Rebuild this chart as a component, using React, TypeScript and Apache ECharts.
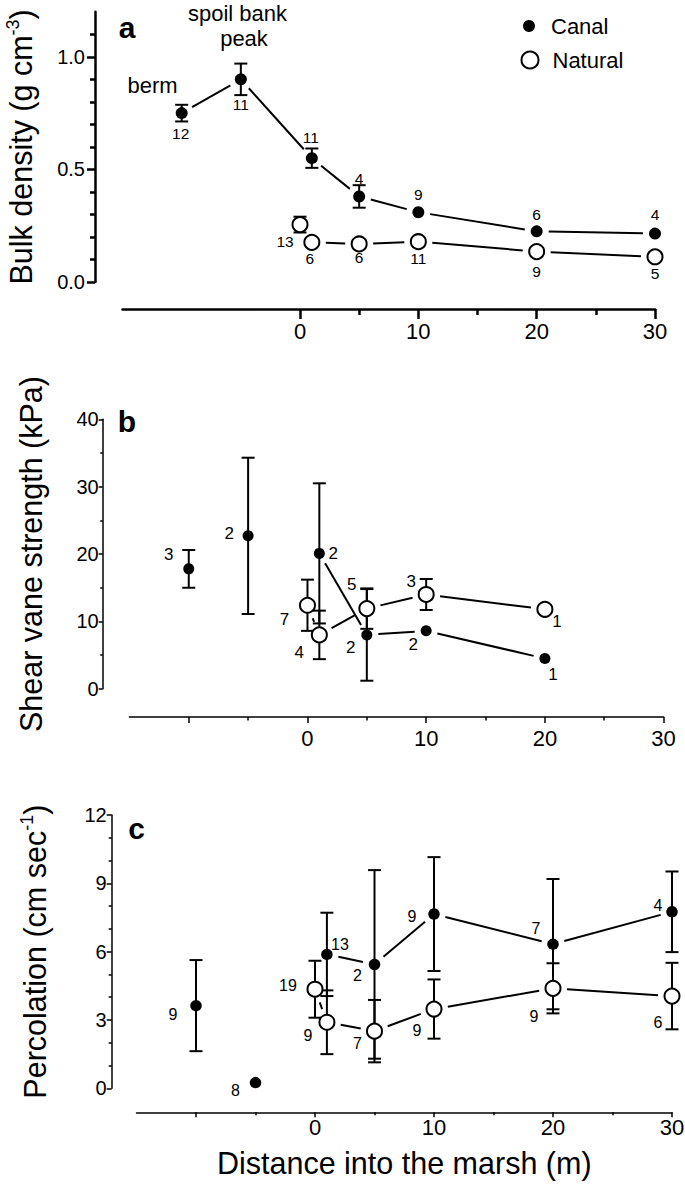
import React, { useEffect, useRef } from "react";
import * as echarts from "echarts";

const FONT = "'Liberation Sans', Arial, Helvetica, sans-serif";

// ---------- Panel a: bulk density (g cm-3) ----------
const canalX_A = [-10, -5, 1, 5, 10, 20, 30];
const canalY_A = [0.75, 0.9, 0.55, 0.38, 0.31, 0.225, 0.215];
const canalSD_A = [0.037, 0.07, 0.043, 0.05, 0, 0, 0];
const canalN_A = [12, 11, 11, 4, 9, 6, 4];
const naturalX_A = [0, 1, 5, 10, 20, 30];
const naturalY_A = [0.255, 0.176, 0.169, 0.179, 0.135, 0.112];
const naturalSD_A = [0.035, 0, 0, 0, 0, 0];
const naturalN_A = [13, 6, 6, 11, 9, 5];

// ---------- Panel b: shear vane strength (kPa) ----------
const canalX_B = [-10, -5, 1, 5, 10, 20];
const canalY_B = [17.8, 22.7, 20.1, 8.0, 8.6, 4.5];
const canalSD_B = [2.8, 11.6, 10.4, 6.8, 0, 0];
const canalN_B = [3, 2, 2, 2, 2, 1];
const naturalX_B = [0, 1, 5, 10, 20];
const naturalY_B = [12.4, 8.0, 11.9, 14.0, 11.8];
const naturalSD_B = [3.8, 3.6, 3.0, 2.3, 0];
const naturalN_B = [7, 4, 5, 3, 1];

// ---------- Panel c: percolation (cm sec-1) ----------
const canalX_C = [-10, -5, 1, 5, 10, 20, 30];
const canalY_C = [3.63, 0.25, 5.88, 5.44, 7.65, 6.33, 7.75];
const canalSD_C = [2.0, 0, 1.83, 4.14, 2.5, 2.86, 1.77];
const canalN_C = [9, 8, 13, 2, 9, 7, 4];
const naturalX_C = [0, 1, 5, 10, 20, 30];
const naturalY_C = [4.35, 2.9, 2.51, 3.48, 4.39, 4.05];
const naturalSD_C = [1.25, 1.4, 1.37, 1.3, 1.1, 1.46];
const naturalN_C = [19, 9, 7, 9, 9, 6];

// ---------- ticks ----------
const xLabelValues = [0, 10, 20, 30];
const xMajorA = [0, 10, 20, 30];
const xMinorA = [5, 15, 25];
const xMajorBC = [-10, 0, 10, 20, 30];
const xMinorBC = [-5, 5, 15, 25];
const yMajorA = [0, 0.5, 1.0];
const yMinorA = [0.1, 0.2, 0.3, 0.4, 0.6, 0.7, 0.8, 0.9, 1.1];
const yMajorB = [0, 10, 20, 30, 40];
const yMinorB = [5, 15, 25, 35];
const yMajorC = [0, 3, 6, 9, 12];
const yMinorC = [1, 2, 4, 5, 7, 8, 10, 11];

// whether berm / spoil-bank-peak points are joined to the marsh line
const spoilLinked = [true, false, false];

// ---------- label placement (px offsets from marker centre) ----------
const offCanalA = [[-1, 20], [0, 25], [-1, -21], [0, -18], [0, -18], [0, -17], [0, -19]];
const offNaturalA = [[-15, 17], [-2, 16], [0, 14], [0, 17], [0, 20], [0, 17]];
const offCanalB = [[-20, -14], [-19, -2], [14, 0], [-16, 13], [-13, 14], [8, 16]];
const offNaturalB = [[-23, 14], [-20, 18], [-15, -24], [-15, -13], [12, 12]];
const offCanalC = [[-23, 9], [-20, 8], [13, -10], [-17, 11], [-22, 2], [-17, -16], [-14, -6]];
const offNaturalC = [[-27, -4], [-19, 13], [-17, 12], [-17, 21], [-19, 28], [-14, 26]];

const BLACK = "#000";

function segments(xs: number[], ys: number[], start: number) {
  const out: number[][] = [];
  for (let i = start; i < xs.length - 1; i++) out.push([xs[i], ys[i], xs[i + 1], ys[i + 1]]);
  return out;
}

function segRender(gap1: number, gap2: number, lw: number) {
  return (_p: any, api: any) => {
    const p1 = api.coord([api.value(0), api.value(1)]);
    const p2 = api.coord([api.value(2), api.value(3)]);
    const dx = p2[0] - p1[0];
    const dy = p2[1] - p1[1];
    const d = Math.hypot(dx, dy);
    if (d <= gap1 + gap2 + 1) return { type: "group", children: [] };
    const ux = dx / d;
    const uy = dy / d;
    return {
      type: "line",
      shape: { x1: p1[0] + ux * gap1, y1: p1[1] + uy * gap1, x2: p2[0] - ux * gap2, y2: p2[1] - uy * gap2 },
      style: { stroke: BLACK, lineWidth: lw },
    };
  };
}

function errRender(capW: number, lw: number) {
  return (_p: any, api: any) => {
    const x = api.value(0);
    const y = api.value(1);
    const e = api.value(2);
    if (!e) return { type: "group", children: [] };
    const top = api.coord([x, y + e]);
    const bot = api.coord([x, y - e]);
    const h = capW / 2;
    const style = { stroke: BLACK, lineWidth: lw };
    return {
      type: "group",
      children: [
        { type: "line", shape: { x1: top[0], y1: top[1], x2: bot[0], y2: bot[1] }, style },
        { type: "line", shape: { x1: top[0] - h, y1: top[1], x2: top[0] + h, y2: top[1] }, style },
        { type: "line", shape: { x1: bot[0] - h, y1: bot[1], x2: bot[0] + h, y2: bot[1] }, style },
      ],
    };
  };
}

type PanelCfg = {
  grid: { left: number; top: number; width: number; height: number };
  yMin: number;
  yMax: number;
  yMajor: number[];
  yMinor: number[];
  xMajor: number[];
  xMinor: number[];
  yOffset: number;
  xOffset: number;
  axisLW: number;
  yMajorLen: number;
  yMinorLen: number;
  xMajorLen: number;
  xMinorLen: number;
  yLabelMargin: number;
  xLabelMargin: number;
  yFmt: (v: number) => string;
  yName: string;
  yNameGap: number;
  xName?: string;
  nFont: number;
  filledSize: number;
  canal: { x: number[]; y: number[]; sd: number[]; n: number[]; off: number[][] };
  natural: { x: number[]; y: number[]; sd: number[]; n: number[]; off: number[][] };
};

const panels: PanelCfg[] = [
  {
    grid: { left: 122.5, top: 11.8, width: 532.5, height: 270.2 },
    yMin: 0, yMax: 1.2, yMajor: yMajorA, yMinor: yMinorA,
    xMajor: xMajorA, xMinor: xMinorA,
    yOffset: 27.5, xOffset: 27, axisLW: 2.5,
    yMajorLen: 8, yMinorLen: 5, xMajorLen: 10, xMinorLen: 6,
    yLabelMargin: 10, xLabelMargin: 11,
    yFmt: (v) => v.toFixed(1),
    yName: "{t|Bulk density (g cm}{s|-3}{t|)}", yNameGap: 57,
    nFont: 15.5, filledSize: 12,
    canal: { x: canalX_A, y: canalY_A, sd: canalSD_A, n: canalN_A, off: offCanalA },
    natural: { x: naturalX_A, y: naturalY_A, sd: naturalSD_A, n: naturalN_A, off: offNaturalA },
  },
  {
    grid: { left: 129.4, top: 419.3, width: 534.2, height: 269.5 },
    yMin: 0, yMax: 40, yMajor: yMajorB, yMinor: yMinorB,
    xMajor: xMajorBC, xMinor: xMinorBC,
    yOffset: 26.7, xOffset: 28.2, axisLW: 1.5,
    yMajorLen: 4, yMinorLen: 2.5, xMajorLen: 6, xMinorLen: 3.5,
    yLabelMargin: 4, xLabelMargin: 10,
    yFmt: (v) => String(v),
    yName: "{t|Shear vane strength (kPa)}", yNameGap: 55,
    nFont: 17, filledSize: 11,
    canal: { x: canalX_B, y: canalY_B, sd: canalSD_B, n: canalN_B, off: offCanalB },
    natural: { x: naturalX_B, y: naturalY_B, sd: naturalSD_B, n: naturalN_B, off: offNaturalB },
  },
  {
    grid: { left: 136.5, top: 815, width: 535.5, height: 273.3 },
    yMin: 0, yMax: 12, yMajor: yMajorC, yMinor: yMinorC,
    xMajor: xMajorBC, xMinor: xMinorBC,
    yOffset: 24.8, xOffset: 24, axisLW: 1.5,
    yMajorLen: 5, yMinorLen: 3, xMajorLen: 5, xMinorLen: 3,
    yLabelMargin: 5, xLabelMargin: 4,
    yFmt: (v) => String(v),
    yName: "{t|Percolation (cm sec}{s|-1}{t|)}", yNameGap: 60,
    xName: "Distance into the marsh (m)",
    nFont: 16, filledSize: 11.5,
    canal: { x: canalX_C, y: canalY_C, sd: canalSD_C, n: canalN_C, off: offCanalC },
    natural: { x: naturalX_C, y: naturalY_C, sd: naturalSD_C, n: naturalN_C, off: offNaturalC },
  },
];

const OPEN_SIZE = 15;
const TITLE_FONT = 30.5;

function buildOption() {
  const grids: any[] = [];
  const xAxes: any[] = [];
  const yAxes: any[] = [];
  const series: any[] = [];

  panels.forEach((p, gi) => {
    grids.push({ ...p.grid, containLabel: false, outerBoundsMode: "none" });
    const lineStyle = { color: BLACK, width: p.axisLW };
    const xCommon = {
      type: "value", gridIndex: gi, min: -15, max: 30, position: "bottom", offset: p.xOffset,
      splitLine: { show: false },
    };
    xAxes.push({
      ...xCommon,
      axisLine: { show: true, onZero: false, lineStyle },
      axisTick: { show: true, customValues: p.xMajor, length: p.xMajorLen, lineStyle },
      axisLabel: {
        show: true, customValues: xLabelValues, fontSize: 22, color: BLACK, fontFamily: FONT,
        margin: p.xLabelMargin,
      },
      ...(p.xName
        ? {
            name: p.xName, nameLocation: "middle", nameGap: 35,
            nameTextStyle: { fontSize: TITLE_FONT, color: BLACK, fontFamily: FONT },
          }
        : {}),
    });
    xAxes.push({
      ...xCommon,
      axisLine: { show: false, onZero: false },
      axisTick: { show: true, customValues: p.xMinor, length: p.xMinorLen, lineStyle },
      axisLabel: { show: false },
    });
    const yCommon = {
      type: "value", gridIndex: gi, min: p.yMin, max: p.yMax, position: "left", offset: p.yOffset,
      splitLine: { show: false },
    };
    yAxes.push({
      ...yCommon,
      axisLine: { show: true, onZero: false, lineStyle },
      axisTick: { show: true, customValues: p.yMajor, length: p.yMajorLen, lineStyle },
      axisLabel: {
        show: true, customValues: p.yMajor, fontSize: 20, color: BLACK, fontFamily: FONT,
        margin: p.yLabelMargin, formatter: p.yFmt,
      },
      name: p.yName, nameLocation: "middle", nameRotate: 90, nameGap: p.yNameGap,
      nameTextStyle: {
        fontSize: TITLE_FONT, color: BLACK, fontFamily: FONT,
        rich: {
          t: { fontSize: TITLE_FONT, fontFamily: FONT, color: BLACK, lineHeight: 34 },
          s: { fontSize: 18, fontFamily: FONT, color: BLACK, verticalAlign: "top", lineHeight: 34, padding: [0, 0, 12, 0] },
        },
      },
    });
    yAxes.push({
      ...yCommon,
      axisLine: { show: false, onZero: false },
      axisTick: { show: true, customValues: p.yMinor, length: p.yMinorLen, lineStyle },
      axisLabel: { show: false },
    });

    const xi = gi * 2;
    const yi = gi * 2;
    const canalGap = p.filledSize / 2 + 6;
    const openGap = OPEN_SIZE / 2 + 6.5;

    // connecting lines
    series.push({
      type: "custom", name: "canal-line-" + gi, xAxisIndex: xi, yAxisIndex: yi, z: 2, silent: true,
      clip: false,
      data: segments(p.canal.x, p.canal.y, spoilLinked[gi] ? 0 : 2),
      encode: { x: [0, 2], y: [1, 3] },
      renderItem: segRender(canalGap, canalGap, 2),
    });
    series.push({
      type: "custom", name: "natural-line-" + gi, xAxisIndex: xi, yAxisIndex: yi, z: 2, silent: true,
      clip: false,
      data: segments(p.natural.x, p.natural.y, 0),
      encode: { x: [0, 2], y: [1, 3] },
      renderItem: segRender(openGap, openGap, 2),
    });
    // error bars
    series.push({
      type: "custom", name: "canal-err-" + gi, xAxisIndex: xi, yAxisIndex: yi, z: 3, silent: true,
      clip: false,
      data: p.canal.x.map((x, i) => [x, p.canal.y[i], p.canal.sd[i]]),
      encode: { x: 0, y: 1 },
      renderItem: errRender(13, 2),
    });
    series.push({
      type: "custom", name: "natural-err-" + gi, xAxisIndex: xi, yAxisIndex: yi, z: 3, silent: true,
      clip: false,
      data: p.natural.x.map((x, i) => [x, p.natural.y[i], p.natural.sd[i]]),
      encode: { x: 0, y: 1 },
      renderItem: errRender(13, 2),
    });
    // markers + n labels
    const lbl = { show: true, position: "inside", color: BLACK, fontSize: p.nFont, fontFamily: FONT };
    series.push({
      type: "scatter", name: "Natural", xAxisIndex: xi, yAxisIndex: yi, z: 4, silent: true,
      symbol: "circle", symbolSize: OPEN_SIZE,
      itemStyle: { color: "#fff", borderColor: BLACK, borderWidth: 2, opacity: 1 },
      label: lbl,
      emphasis: { disabled: true },
      data: p.natural.x.map((x, i) => ({
        value: [x, p.natural.y[i]],
        label: { formatter: String(p.natural.n[i]), offset: p.natural.off[i] },
      })),
    });
    series.push({
      type: "scatter", name: "Canal", xAxisIndex: xi, yAxisIndex: yi, z: 5, silent: true,
      symbol: "circle", symbolSize: p.filledSize,
      itemStyle: { color: BLACK, opacity: 1 },
      label: lbl,
      emphasis: { disabled: true },
      data: p.canal.x.map((x, i) => ({
        value: [x, p.canal.y[i]],
        label: { formatter: String(p.canal.n[i]), offset: p.canal.off[i] },
      })),
    });
  });

  const txt = (text: string, x: number, y: number, size: number, bold = false) => ({
    type: "text", x, y, z: 10,
    style: {
      text, fill: BLACK, fontSize: size, fontFamily: FONT, fontWeight: bold ? "bold" : "normal",
      textAlign: "center", textVerticalAlign: "middle", align: "center", verticalAlign: "middle",
    },
  });

  return {
    animation: false,
    backgroundColor: "#fff",
    textStyle: { fontFamily: FONT },
    grid: grids,
    xAxis: xAxes,
    yAxis: yAxes,
    series,
    legend: [
      {
        data: ["Canal"], left: 523, top: 15, padding: 0, orient: "vertical",
        icon: "circle", itemWidth: 12, itemHeight: 12, selectedMode: false,
        itemStyle: { color: BLACK, borderWidth: 0 },
        textStyle: { fontSize: 22, color: BLACK, fontFamily: FONT, padding: [0, 0, 0, 11] },
      },
      {
        data: ["Natural"], left: 520.5, top: 49, padding: 0, orient: "vertical",
        icon: "circle", itemWidth: 17, itemHeight: 17, selectedMode: false,
        itemStyle: { color: "#fff", borderColor: BLACK, borderWidth: 2 },
        textStyle: { fontSize: 22, color: BLACK, fontFamily: FONT, padding: [0, 0, 0, 9] },
      },
    ],
    graphic: [
      txt("a", 127, 27, 30, true),
      txt("b", 127, 421, 30, true),
      txt("c", 136.5, 828, 30, true),
      txt("berm", 152.5, 85, 22),
      txt("spoil bank", 237.5, 13, 22),
      txt("peak", 244, 38, 22),
    ],
  };
}

export default function App() {
  const ref = useRef<HTMLDivElement>(null);
  useEffect(() => {
    if (!ref.current) return;
    const chart = echarts.init(ref.current, undefined, { renderer: "svg" });
    chart.setOption(buildOption() as any);
    return () => chart.dispose();
  }, []);
  return (
    <div
      ref={ref}
      style={{ position: "absolute", left: 0, top: 0, width: 685, height: 1188, background: "#fff" }}
    />
  );
}
